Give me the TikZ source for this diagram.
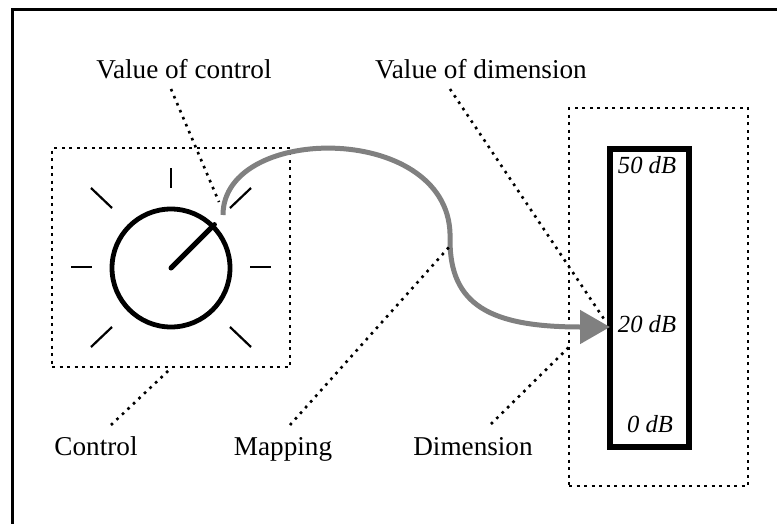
\documentclass[tikz,border=0pt]{standalone}
\usepackage{fontspec}
\setmainfont{Liberation Serif}
\usetikzlibrary{arrows.meta}
\begin{document}
\begin{tikzpicture}[x=1pt,y=-1pt,
  lbl/.style={font=\fontsize{27.2}{32}\selectfont, inner sep=0pt, anchor=base},
  dbtext/.style={font=\fontsize{24.6}{30}\selectfont\itshape, inner sep=0pt, anchor=base},
  dotbox/.style={draw, line width=2.4pt, dash pattern=on 3pt off 4.5pt, inner sep=0pt},
  leader/.style={line width=2.6pt, dash pattern=on 2.6pt off 5pt},
  tickline/.style={line width=2.2pt},
  mapline/.style={draw={rgb,255:red,128;green,128;blue,128}, line width=5pt, -{Triangle[length=30pt,width=33pt]}}]
\useasboundingbox (0,0) rectangle (777,523);
% outer frame (cut by the picture's right and bottom edges)
\draw[line width=3pt] (12,9) rectangle (800,545);

% control box and knob
\node[dotbox, minimum width=238pt, minimum height=219pt] (ctrlbox) at (171,257.5) {};
\node[circle, draw, line width=4.8pt, minimum size=118pt, inner sep=0pt] (knob) at (171,268) {};
\draw[line width=5pt, line cap=round] (knob.center) -- (knob.45);
\draw[tickline] (171,168) -- (171,188);
\draw[tickline] (91,188) -- (112,208);
\draw[tickline] (230,208) -- (251,188);
\draw[tickline] (71,267) -- (92,267);
\draw[tickline] (250,267) -- (271,267);
\draw[tickline] (91,347) -- (112,327);
\draw[tickline] (230,327) -- (251,347);

% dimension box and meter
\node[dotbox, minimum width=179pt, minimum height=378pt] (dimbox) at (658.5,297) {};
\node[draw, line width=6pt, minimum width=79pt, minimum height=298pt, inner sep=0pt] (meter) at (649,297.5) {};
\node[dbtext] (v50) at (647,173) {50 dB};
\node[dbtext] (v20) at (647,332) {20 dB};
\node[dbtext] (v0) at (650,432) {0 dB};

% labels
\node[lbl] (lvc) at (184,78) {Value of control};
\node[lbl] (lvd) at (481,78) {Value of dimension};
\node[lbl] (lctl) at (96,455) {Control};
\node[lbl] (lmap) at (283,455) {Mapping};
\node[lbl] (ldim) at (473,455) {Dimension};

% mapping curve
\coordinate (cs) at (223,215);
\coordinate (cm) at (450,240);
\coordinate (ce) at (610,327);
\draw[mapline] (cs) .. controls (223,122) and (455,122) .. (cm) .. controls (450,305) and (490,327) .. (ce);

% leader lines
\coordinate (vcA) at (171,89);
\coordinate (vcB) at (219,202);
\coordinate (vdA) at (450,89);
\coordinate (vdB) at (606,322);
\coordinate (ctA) at (111,425);
\coordinate (mpA) at (290,425);
\coordinate (mpB) at (450,246);
\coordinate (dmA) at (491,424);
\coordinate (dmB) at (569,347);
\draw[leader] (vcA) -- (vcB);
\draw[leader] (vdA) -- (vdB);
\draw[leader] (ctA) -- (ctrlbox.south);
\draw[leader] (mpA) -- (mpB);
\draw[leader] (dmA) -- (dmB);
\end{tikzpicture}
\end{document}
